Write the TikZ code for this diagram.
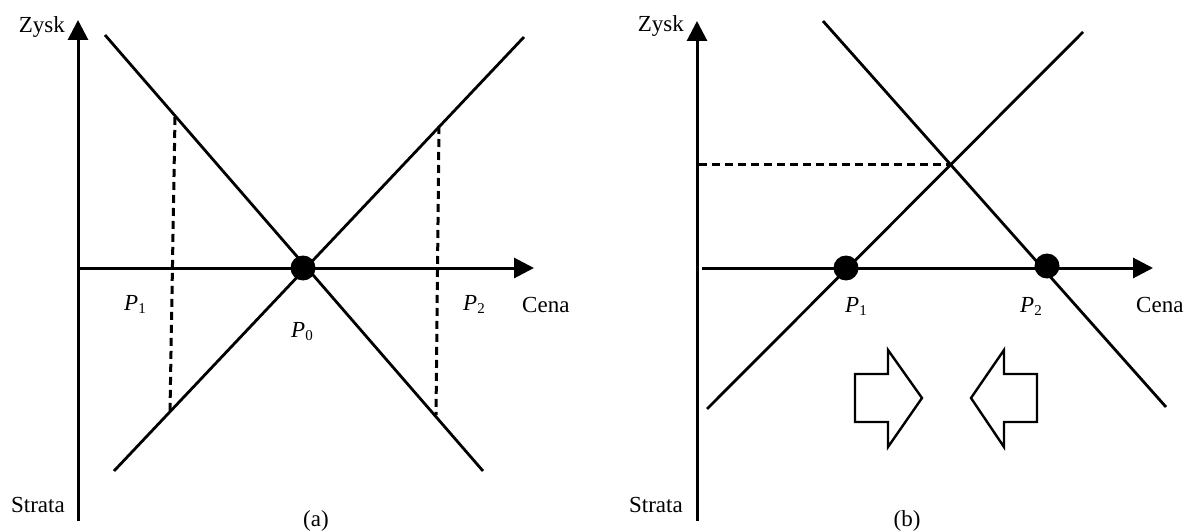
\documentclass[tikz,border=0pt]{standalone}
\usepackage{fontspec}
\setmainfont{Liberation Serif}
\usetikzlibrary{arrows.meta}
\tikzset{
  axis/.style={line width=3pt,-{Triangle[length=20pt,width=20pt]}},
  plainaxis/.style={line width=3pt},
  curve/.style={line width=2.8pt},
  guide/.style={line width=3pt,dash pattern=on 8pt off 5pt},
  dot/.style={circle,fill=black,inner sep=0pt,minimum size=25pt},
  lbl/.style={inner sep=0pt,font=\fontsize{23}{27}\selectfont},
  bigarrow/.style={line width=2.4pt,line join=miter}
}
\newcommand{\plab}[1]{{\itshape P}\raisebox{-0.35ex}{\fontsize{15}{15}\selectfont #1}}
\begin{document}
\begin{tikzpicture}[x=1pt,y=-1pt]
\useasboundingbox (0,0) rectangle (1187,532);
% ---------- panel (a) ----------
\coordinate (aO) at (78,268);
\coordinate (aTop) at (78,20);
\coordinate (aBot) at (78,521);
\coordinate (aRight) at (534,268);
\draw[plainaxis] (aO) -- (aBot);
\draw[axis] (aO) -- (aTop);
\draw[axis] (aO) -- (aRight);
\coordinate (aD1) at (105,35);
\coordinate (aD2) at (483,471);
\coordinate (aA1) at (114,471);
\coordinate (aA2) at (524,37);
\draw[curve] (aD1) -- (aD2);
\draw[curve] (aA1) -- (aA2);
\coordinate (aL1) at (175,117);
\coordinate (aL2) at (170,411);
\coordinate (aR1) at (439,126);
\coordinate (aR2) at (436,415);
\draw[guide] (aL1) -- (aL2);
\draw[guide] (aR1) -- (aR2);
\node[dot] (P0) at (303,268) {};
\node[lbl,anchor=base east] (aZysk) at (65,33) {Zysk};
\node[lbl,anchor=base east] (aStrata) at (65,512) {Strata};
\node[lbl,anchor=base west] (aCena) at (522,312) {Cena};
\node[lbl,anchor=base west] (aP1) at (124,310) {\plab{1}};
\node[lbl,anchor=base west] (aP2) at (463,310) {\plab{2}};
\node[lbl,anchor=base west] (aP0) at (291,337) {\plab{0}};
\node[lbl,anchor=base] (aCap) at (316,526) {(a)};
% ---------- panel (b) ----------
\coordinate (bO) at (697,268);
\coordinate (bTop) at (697,21);
\coordinate (bBot) at (697,521);
\coordinate (bStart) at (702,268);
\coordinate (bRight) at (1153,268);
\draw[plainaxis] (bO) -- (bBot);
\draw[axis] (bO) -- (bTop);
\draw[axis] (bStart) -- (bRight);
\coordinate (bA1) at (707,409);
\coordinate (bA2) at (1083,32);
\coordinate (bD1) at (823,21);
\coordinate (bD2) at (1166,407);
\draw[curve] (bA1) -- (bA2);
\draw[curve] (bD1) -- (bD2);
\coordinate (bX) at (949,165);
\coordinate (bY) at (699,165);
\draw[guide] (bY) -- (bX);
\node[dot] (bP1) at (846,268) {};
\node[dot] (bP2) at (1047,266) {};
\node[lbl,anchor=base east] (bZysk) at (684,32) {Zysk};
\node[lbl,anchor=base east] (bStrata) at (683,512) {Strata};
\node[lbl,anchor=base west] (bCena) at (1136,312) {Cena};
\node[lbl,anchor=base west] (bP1l) at (845,312) {\plab{1}};
\node[lbl,anchor=base west] (bP2l) at (1020,312) {\plab{2}};
\node[lbl,anchor=base] (bCap) at (907,526) {(b)};
% block arrows
\draw[bigarrow] (855,374) -- (888,374) -- (888,350) -- (922,398) -- (888,447) -- (888,422) -- (855,422) -- cycle;
\draw[bigarrow] (1037,374) -- (1004,374) -- (1004,350) -- (971,398) -- (1004,447) -- (1004,422) -- (1037,422) -- cycle;
\end{tikzpicture}
\end{document}
